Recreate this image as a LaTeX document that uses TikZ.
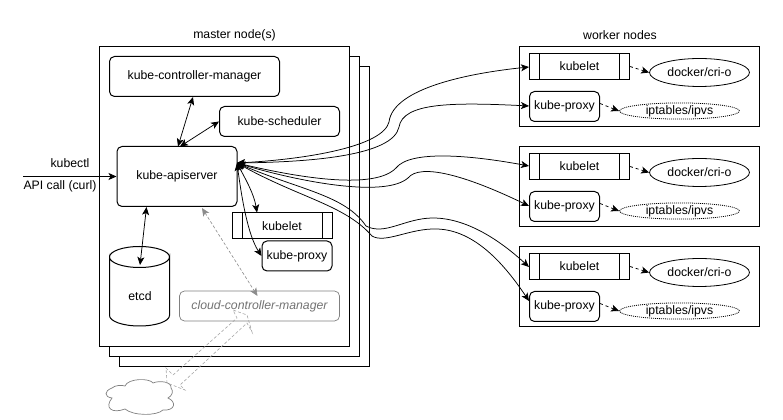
\documentclass[tikz,border=0pt]{standalone}
\usepackage{fontspec}
\setmainfont{Liberation Sans}
\usetikzlibrary{arrows.meta,shapes.geometric}
\def\px{0.75pt}
\tikzset{
  x=0.75pt,y=-0.75pt,
  every node/.style={font=\fontsize{9.2pt}{11pt}\selectfont,inner sep=0pt,text=black},
  sized/.style n args={2}{minimum width=#1*\px,minimum height=#2*\px},
  frame/.style={draw,line width=\px,fill=white},
  rbox/.style={draw,line width=\px,rounded corners=5*\px,fill=white},
  kbox/.style={draw,line width=\px,fill=white,path picture={
     \draw[line width=\px] ([xshift=10*\px]path picture bounding box.north west) -- ([xshift=10*\px]path picture bounding box.south west);
     \draw[line width=\px] ([xshift=-10*\px]path picture bounding box.north east) -- ([xshift=-10*\px]path picture bounding box.south east);}},
  conn/.style={line width=0.75*\px,-{Stealth[length=8*\px,width=7*\px,inset=2*\px]}},
  dconn/.style={line width=0.75*\px,{Stealth[length=8*\px,width=7*\px,inset=2*\px]}-{Stealth[length=8*\px,width=7*\px,inset=2*\px]}},
  dashconn/.style={conn,dash pattern=on 3*\px off 3*\px},
  grayconn/.style={line width=0.6*\px,draw=black!45,dash pattern=on 3*\px off 2*\px,{Stealth[length=8*\px,width=7*\px,inset=2*\px,fill=black!45]}-{Stealth[length=8*\px,width=7*\px,inset=2*\px,fill=black!45]}},
  flex/.style={line width=0.6*\px,draw=black!35,dash pattern=on 3*\px off 2*\px},
}
\begin{document}
\begin{tikzpicture}
\useasboundingbox (0,0) rectangle (783,420);
% master frames
\node[frame,sized={250}{300}] (f3) at (244.5,216.5) {};
\node[frame,sized={250}{300}] (f2) at (234.5,206.5) {};
\node[frame,sized={250}{300}] (f1) at (224.5,196.5) {};
\node (mastertitle) at (234.5,35) {master node(s)};
\node[rbox,sized={170}{40}] (kcm) at (194.5,76.5) {kube-controller-manager};
\node[rbox,sized={120}{30}] (sched) at (279.5,121.5) {kube-scheduler};
\node[rbox,sized={120}{60}] (api) at (177,176.5) {kube-apiserver};
\node[kbox,sized={100}{26}] (mkubelet) at (282,226) {kubelet};
\node[rbox,sized={70}{30}] (mproxy) at (297,256) {kube-proxy};
% etcd
\draw[line width=\px,fill=white] (109.5,257) arc[start angle=180,end angle=0,x radius=30,y radius=10.5] -- (169.5,315.5) arc[start angle=0,end angle=180,x radius=30,y radius=10.5] -- cycle;
\draw[line width=\px] (109.5,257) arc[start angle=180,end angle=360,x radius=30,y radius=10.5];
\node (etcd) at (140,296) {etcd};
\coordinate (etcdtop) at (140,265);
\node[draw=black!50,line width=0.7*\px,rounded corners=5*\px,fill=white,sized={160}{30},text=black!55,font=\fontsize{9.2pt}{11pt}\selectfont\itshape] (ccm) at (259.5,306) {cloud-controller-manager};
% cloud
\draw[draw=black!50,line width=0.7*\px,fill=white] (112,388) .. controls (115,385) and (122,385) .. (125,386)
  .. controls (128,378) and (150,378) .. (153,383)
  .. controls (160,380) and (172,382) .. (171,388)
  .. controls (174,391) and (172,396) .. (168,398)
  .. controls (177,402) and (175,411) .. (163,410)
  .. controls (157,416) and (133,416) .. (125,409)
  .. controls (112,414) and (104,408) .. (112,398)
  .. controls (104,397) and (104,391) .. (112,388) -- cycle;
% worker frames
\foreach \n/\dy in {a/0,b/100,c/200}{
  \node[frame,sized={240}{80}] (w\n) at (639.5,86.5+\dy) {};
  \node[kbox,sized={100}{26}] (kl\n) at (579.5,66.5+\dy) {kubelet};
  \node[rbox,sized={70}{30}] (kp\n) at (564.5,106.5+\dy) {kube-proxy};
  \node[ellipse,draw,line width=0.8*\px,minimum width=100*\px,minimum height=28*\px] (dk\n) at (699.5,72.5+\dy) {docker/cri-o};
  \node[ellipse,draw,line width=0.8*\px,dash pattern=on 1*\px off 1*\px,minimum width=120*\px,minimum height=14*\px] (ip\n) at (679.5,111+\dy) {iptables/ipvs};
  \draw[dashconn] (kl\n.east) -- (dk\n.west);
  \draw[dashconn] ([yshift=3*\px]kp\n.east) -- (ip\n.west);
}
\node (workertitle) at (620,35) {worker nodes};
% kubectl
\coordinate (client) at (23,176.5);
\draw[conn] (client) -- (api.west);
\node (kubectl) at (70,163.5) {kubectl};
\node (apicall) at (60,186) {API call (curl)};
% internal links
\coordinate (apiport) at (237,163);
\coordinate (kcmport) at (193,97);
\coordinate (apitop1) at (178,146.5);
\coordinate (apitop2) at (180,146.5);
\coordinate (apibot) at (146.5,207);
\draw[dconn] (kcmport) -- (apitop1);
\draw[dconn] (sched.west) -- (apitop2);
\draw[dconn] (apibot) -- (etcdtop);
\draw[dconn] (apiport) .. controls (246,180) and (254,194) .. ([xshift=-25*\px]mkubelet.north);
\draw[dconn] (apiport) .. controls (242,200) and (248,235) .. (mproxy.west);
% gray
\coordinate (apigray) at (202,208);
\coordinate (ccmtop) at (257.5,296);
\draw[grayconn] (apigray) -- (ccmtop);
\draw[flex] (173,375) -- (237,318) -- (233,310) -- (247,315) -- (252,332) -- (247,323) -- (180,385) -- (185,390) -- (167,383) -- (166,368) -- cycle;
% worker links
\coordinate (pa1) at (529,67);\coordinate (pa2) at (529,106);
\coordinate (pb1) at (529,166);\coordinate (pb2) at (529,206);
\coordinate (pc1) at (529,267);\coordinate (pc2) at (529,301);
\draw[dconn] (apiport) .. controls (310,159) and (383,146) .. (389,122) .. controls (393,88) and (470,73) .. (pa1);
\draw[dconn] (apiport) .. controls (310,162) and (393,156) .. (399,127) .. controls (403,103) and (450,102) .. (pa2);
\draw[dconn] (apiport) .. controls (300,178) and (375,190) .. (396,168) .. controls (410,150) and (470,155) .. (pb1);
\draw[dconn] (apiport) .. controls (300,182) and (385,198) .. (408,178) .. controls (420,163) and (465,175) .. (pb2);
\draw[dconn] (apiport) .. controls (300,190) and (345,195) .. (366,226) .. controls (385,236) and (405,218) .. (433,218) .. controls (470,218) and (505,245) .. (pc1);
\draw[dconn] (apiport) .. controls (300,198) and (345,205) .. (372,236) .. controls (385,244) and (410,228) .. (437,229) .. controls (475,230) and (505,265) .. (pc2);
\end{tikzpicture}
\end{document}
